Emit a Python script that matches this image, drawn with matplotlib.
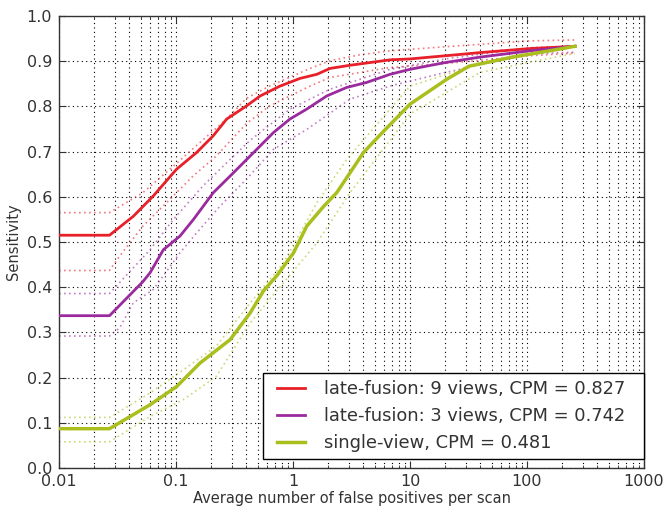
import numpy as np
import matplotlib
matplotlib.use("Agg")
import matplotlib.pyplot as plt
from matplotlib.legend_handler import HandlerLine2D

# ---------------- data ----------------
# late-fusion: 9 views
red_x = [0.01, 0.027, 0.0432, 0.064, 0.101, 0.150, 0.208, 0.271, 0.40, 0.523, 0.775, 1.15, 1.6, 2.07,
         3.07, 4.55, 6.75, 10, 20, 39.6, 106, 257]
red_y = [0.515, 0.515, 0.557, 0.602, 0.661, 0.698, 0.735, 0.772, 0.801, 0.823, 0.845, 0.862, 0.871, 0.884,
         0.891, 0.897, 0.903, 0.905, 0.912, 0.919, 0.928, 0.933]
red_up_x = [0.01, 0.027, 0.052, 0.095, 0.16, 0.27, 0.40, 0.63, 1.4, 2.07, 3.7, 6.75, 20, 106, 257]
red_up_y = [0.565, 0.565, 0.609, 0.668, 0.72, 0.772, 0.818, 0.845, 0.884, 0.901, 0.914, 0.923, 0.932, 0.945, 0.947]
red_lo_x = [0.01, 0.027, 0.033, 0.052, 0.083, 0.14, 0.22, 0.40, 0.63, 1.4, 2.07, 6.75, 20, 106, 257]
red_lo_y = [0.437, 0.437, 0.469, 0.535, 0.587, 0.646, 0.69, 0.762, 0.801, 0.845, 0.864, 0.886, 0.895, 0.912, 0.918]

# late-fusion: 3 views
pur_x = [0.01, 0.027, 0.052, 0.06, 0.078, 0.108, 0.141, 0.208, 0.309, 0.429, 0.49, 0.68, 0.94, 1.31, 1.94,
         2.88, 4.26, 6.75, 10, 20, 39.6, 106, 257]
pur_y = [0.337, 0.337, 0.412, 0.432, 0.483, 0.513, 0.55, 0.609, 0.653, 0.69, 0.705, 0.742, 0.772, 0.794, 0.823,
         0.842, 0.853, 0.871, 0.882, 0.897, 0.909, 0.923, 0.933]
pur_up_x = [0.01, 0.027, 0.06, 0.095, 0.17, 0.27, 0.43, 0.94, 2.07, 6.75, 20, 106, 257]
pur_up_y = [0.386, 0.386, 0.483, 0.55, 0.624, 0.675, 0.725, 0.794, 0.838, 0.882, 0.905, 0.93, 0.933]
pur_lo_x = [0.01, 0.027, 0.033, 0.043, 0.064, 0.108, 0.15, 0.237, 0.40, 0.68, 1.31, 3.07, 6.75, 20, 106, 257]
pur_lo_y = [0.292, 0.292, 0.31, 0.365, 0.395, 0.476, 0.52, 0.579, 0.639, 0.705, 0.749, 0.816, 0.845, 0.875, 0.916, 0.92]

# single-view
grn_x = [0.01, 0.027, 0.06, 0.101, 0.16, 0.29, 0.43, 0.56, 0.73, 1.01, 1.31, 1.83, 2.36, 3.07, 4.0, 5.8, 10,
         20.6, 32, 75, 192, 257]
grn_y = [0.087, 0.087, 0.14, 0.18, 0.232, 0.284, 0.343, 0.392, 0.426, 0.476, 0.535, 0.579, 0.609, 0.653, 0.698,
         0.742, 0.805, 0.86, 0.889, 0.909, 0.927, 0.933]
grn_up_x = [0.01, 0.027, 0.06, 0.115, 0.22, 0.43, 0.83, 1.6, 2.88, 10, 39.6, 106, 257]
grn_up_y = [0.112, 0.112, 0.166, 0.217, 0.269, 0.365, 0.454, 0.587, 0.683, 0.845, 0.894, 0.92, 0.935]
grn_lo_x = [0.01, 0.027, 0.06, 0.115, 0.22, 0.43, 0.83, 1.6, 3.07, 10, 39.6, 106, 257]
grn_lo_y = [0.058, 0.058, 0.114, 0.151, 0.202, 0.321, 0.41, 0.498, 0.609, 0.783, 0.875, 0.898, 0.917]

labels = ["late-fusion: 9 views, CPM = 0.827",
          "late-fusion: 3 views, CPM = 0.742",
          "single-view, CPM = 0.481"]
xtick_vals = [0.01, 0.1, 1, 10, 100, 1000]
xtick_labels = ["0.01", "0.1", "1", "10", "100", "1000"]
ytick_vals = [0.0, 0.1, 0.2, 0.3, 0.4, 0.5, 0.6, 0.7, 0.8, 0.9, 1.0]

red_c = "#e8202a"
pur_c = "#9b2a9e"
grn_c = "#aabf1e"

fig = plt.figure(figsize=(6.67, 5.11), dpi=100)
ax = fig.add_axes([0.0885, 0.0841, 0.877, 0.8846])

series = [
    (red_x, red_y, red_up_x, red_up_y, red_lo_x, red_lo_y, red_c, 2.0),
    (pur_x, pur_y, pur_up_x, pur_up_y, pur_lo_x, pur_lo_y, pur_c, 2.0),
    (grn_x, grn_y, grn_up_x, grn_up_y, grn_lo_x, grn_lo_y, grn_c, 2.5),
]
handles = []
for (x, y, ux, uy, lx, ly, c, lw), lab in zip(series, labels):
    h, = ax.plot(x, y, color=c, lw=lw, label=lab, zorder=3)
    handles.append(h)
    ax.plot(ux, uy, color=c, lw=1.2, ls=(0, (1, 2)), alpha=0.6, zorder=2)
    ax.plot(lx, ly, color=c, lw=1.2, ls=(0, (1, 2)), alpha=0.6, zorder=2)

ax.set_xscale("log")
ax.set_xlim(0.01, 1000)
ax.set_ylim(0, 1.0)
ax.set_xticks(xtick_vals)
ax.set_xticklabels(xtick_labels)
ax.set_yticks(ytick_vals)
ax.set_yticklabels([f"{v:.1f}" for v in ytick_vals])

ax.grid(True, which="major", color="black", ls=(0, (1, 3)), lw=0.8)
ax.grid(True, which="minor", axis="x", color="black", ls=(0, (1, 3)), lw=0.8)

ax.tick_params(which="both", direction="in", top=True, right=True, labelsize=11.5, colors="#333333")
ax.tick_params(axis="x", which="major", pad=4)
ax.tick_params(axis="y", which="major", pad=5)
ax.tick_params(which="major", length=5)
ax.tick_params(which="minor", length=2)
for s in ax.spines.values():
    s.set_color("#333333")
    s.set_linewidth(1.0)

ax.set_xlabel("Average number of false positives per scan", fontsize=10.5, color="#333333", labelpad=2)
ax.set_ylabel("Sensitivity", fontsize=10.5, color="#333333", labelpad=4)


class IndentHandler(HandlerLine2D):
    def create_artists(self, legend, orig_handle, xdescent, ydescent, width, height, fontsize, trans):
        shift = 0.38 * fontsize
        return super().create_artists(legend, orig_handle, xdescent - shift, ydescent,
                                      width - shift, height, fontsize, trans)


leg = ax.legend(handles, [l + "  " for l in labels], loc="lower right", bbox_to_anchor=(1.0, 0.02),
                fontsize=12.9, handlelength=1.9, fancybox=False, framealpha=1.0,
                borderaxespad=0.0, labelspacing=0.5, handletextpad=1.1, borderpad=0.4,
                handler_map={h: IndentHandler() for h in handles})
leg.get_frame().set_edgecolor("black")
leg.get_frame().set_linewidth(1.0)
for t in leg.get_texts():
    t.set_color("#333333")

fig.savefig("out.png", dpi=100)
